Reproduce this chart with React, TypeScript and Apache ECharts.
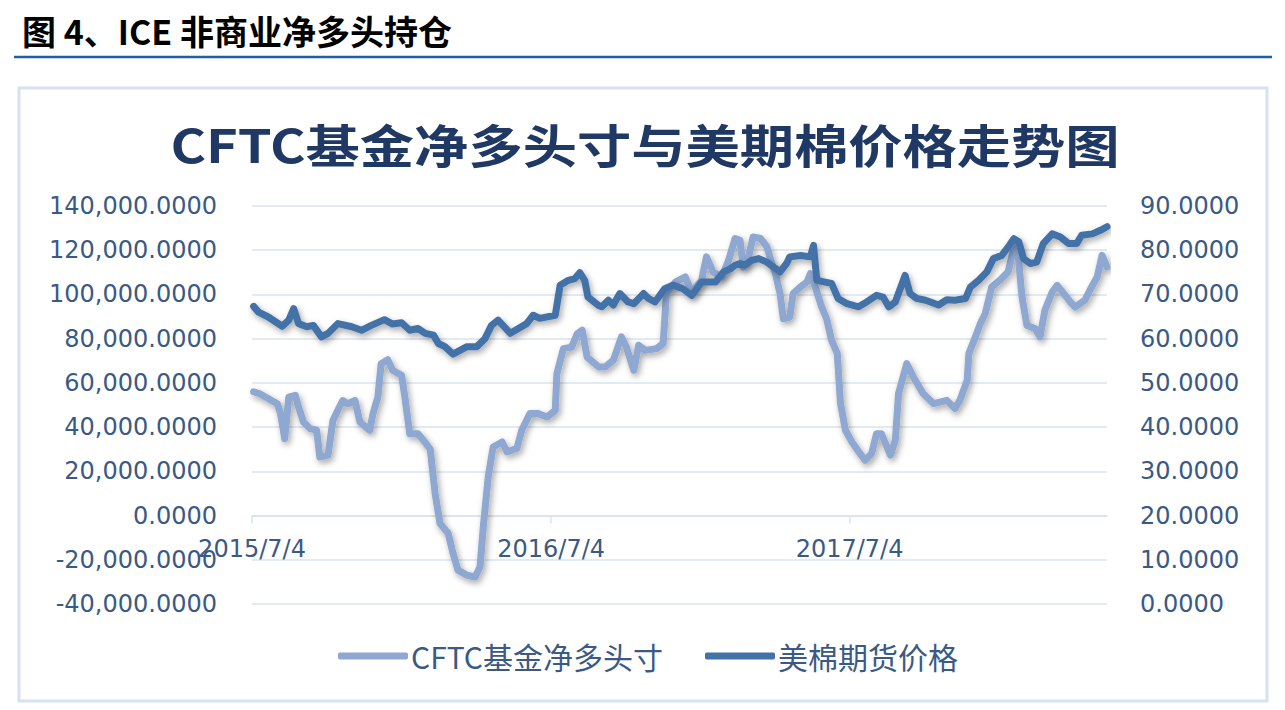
import React, { useEffect, useRef } from 'react';
import * as echarts from 'echarts';

const pageTitle = '图 4、ICE 非商业净多头持仓';
const chartTitle = 'CFTC基金净多头寸与美期棉价格走势图';
const seriesNames = ['CFTC基金净多头寸', '美棉期货价格'];
const tickLabels = ['2015/7/4', '2016/7/4', '2017/7/4'];

const cftcDates = [
  '2015-07-06','2015-07-14','2015-08-04','2015-08-08','2015-08-13','2015-08-18','2015-08-26','2015-08-30',
  '2015-09-05','2015-09-13','2015-09-21','2015-09-25','2015-10-05','2015-10-11','2015-10-17','2015-10-23',
  '2015-10-29','2015-11-07','2015-11-13','2015-11-25','2015-11-29','2015-12-05','2015-12-09','2015-12-17',
  '2015-12-23','2016-01-03','2016-01-07','2016-01-13','2016-01-23','2016-02-01','2016-02-07','2016-02-13',
  '2016-02-19','2016-02-29','2016-03-06','2016-03-12','2016-03-23','2016-04-02','2016-04-08','2016-04-12',
  '2016-04-18','2016-04-24','2016-05-05','2016-05-11','2016-05-23','2016-05-29','2016-06-08','2016-06-18',
  '2016-06-29','2016-07-09','2016-07-11','2016-07-19','2016-07-29','2016-08-05','2016-08-11','2016-08-17',
  '2016-08-31','2016-09-08','2016-09-18','2016-09-28','2016-10-04','2016-10-13','2016-10-19','2016-10-27',
  '2016-11-10','2016-11-18','2016-11-22','2016-12-03','2016-12-15','2016-12-23','2017-01-04','2017-01-10',
  '2017-01-18','2017-01-29','2017-02-06','2017-02-14','2017-02-20','2017-02-24','2017-03-02','2017-03-08',
  '2017-03-17','2017-03-25','2017-03-31','2017-04-04','2017-04-10','2017-04-14','2017-04-22','2017-04-26',
  '2017-05-05','2017-05-13','2017-05-17','2017-05-23','2017-05-31','2017-06-06','2017-06-12','2017-06-19',
  '2017-06-23','2017-06-29','2017-07-07','2017-07-17','2017-07-23','2017-07-31','2017-08-06','2017-08-12',
  '2017-08-23','2017-08-29','2017-09-02','2017-09-12','2017-09-20','2017-10-02','2017-10-15','2017-10-31',
  '2017-11-10','2017-11-16','2017-11-25','2017-11-27','2017-12-05','2017-12-11','2017-12-17','2017-12-25',
  '2018-01-04','2018-01-14','2018-01-21','2018-01-25','2018-01-31','2018-02-06','2018-02-16','2018-02-22',
  '2018-02-28','2018-03-09','2018-03-15','2018-03-23','2018-03-31','2018-04-06','2018-04-18','2018-04-25',
  '2018-05-03','2018-05-09','2018-05-15',
];
const cftcValues = [
  56000, 55000, 50600, 46000, 34800, 53600, 54400, 49000,
  42300, 39300, 38600, 26500, 27300, 43000, 47600, 52000,
  50600, 52000, 42300, 38600, 46000, 53600, 68700, 70500,
  65700, 63400, 53600, 37000, 37000, 33000, 30000, 10000,
  -3600, -8000, -17200, -24700, -27000, -27800, -23200, -5000,
  17500, 31000, 33300, 28800, 30300, 38600, 46100, 46100,
  44600, 47600, 64200, 75500, 76200, 82300, 83800, 71700,
  67200, 67200, 70200, 80800, 76200, 65700, 77000, 74700,
  75500, 77800, 100400, 105600, 107900, 101100, 106400, 117000,
  110200, 107900, 115400, 125300, 124500, 112400, 116200, 126000,
  125300, 121500, 114000, 110000, 100400, 89000, 89800, 100400,
  103400, 105600, 109400, 103400, 94300, 89000, 79300, 73300,
  50600, 38600, 33300, 28000, 25000, 28000, 37000, 37000,
  27300, 34000, 55200, 68700, 62700, 55200, 50600, 52100,
  48400, 52100, 61200, 73300, 80800, 86800, 91300, 103400,
  106400, 110200, 120800, 123000, 98900, 86000, 84600, 80800,
  92800, 101100, 104100, 100400, 96600, 94300, 97400, 102600,
  107900, 117700, 112400,
];

const priceDates = [
  '2015-07-06','2015-07-12','2015-07-24','2015-08-10','2015-08-18','2015-08-24','2015-08-30','2015-09-09',
  '2015-09-17','2015-09-27','2015-10-05','2015-10-17','2015-11-03','2015-11-15','2015-11-27','2015-12-13',
  '2015-12-23','2016-01-03','2016-01-13','2016-01-23','2016-02-01','2016-02-11','2016-02-17','2016-02-25',
  '2016-03-06','2016-03-23','2016-04-04','2016-04-14','2016-04-22','2016-04-30','2016-05-06','2016-05-15',
  '2016-05-25','2016-06-04','2016-06-12','2016-06-20','2016-07-09','2016-07-15','2016-07-25','2016-08-02',
  '2016-08-08','2016-08-14','2016-08-18','2016-08-31','2016-09-04','2016-09-12','2016-09-18','2016-09-26',
  '2016-10-06','2016-10-13','2016-10-25','2016-10-31','2016-11-08','2016-11-20','2016-11-30','2016-12-12',
  '2016-12-23','2017-01-04','2017-01-21','2017-01-31','2017-02-08','2017-02-14','2017-02-20','2017-02-26',
  '2017-03-06','2017-03-15','2017-03-25','2017-04-02','2017-04-10','2017-04-18','2017-04-22','2017-05-05',
  '2017-05-17','2017-05-21','2017-05-25','2017-06-04','2017-06-12','2017-06-20','2017-07-01','2017-07-15',
  '2017-07-25','2017-08-06','2017-08-14','2017-08-21','2017-08-29','2017-09-04','2017-09-10','2017-09-16',
  '2017-09-24','2017-10-05','2017-10-11','2017-10-21','2017-10-31','2017-11-10','2017-11-23','2017-11-29',
  '2017-12-09','2017-12-19','2017-12-27','2018-01-06','2018-01-14','2018-01-21','2018-01-27','2018-02-02',
  '2018-02-10','2018-02-18','2018-02-26','2018-03-09','2018-03-19','2018-03-29','2018-04-08','2018-04-14',
  '2018-04-27','2018-05-07','2018-05-15',
];
const priceValues = [
  67.3, 66.0, 64.9, 62.8, 64.2, 66.8, 63.4, 62.7,
  63.0, 60.4, 61.2, 63.4, 62.7, 61.9, 63.0, 64.3,
  63.3, 63.6, 61.9, 62.3, 61.2, 60.8, 58.9, 58.2,
  56.5, 58.2, 58.2, 60.0, 63.0, 64.2, 63.0, 61.2,
  62.3, 63.4, 65.3, 64.6, 65.3, 72.1, 73.2, 73.6,
  74.9, 73.2, 69.4, 67.5, 67.2, 68.7, 67.6, 70.2,
  68.3, 67.9, 70.2, 69.1, 68.3, 71.3, 72.1, 71.3,
  69.8, 72.8, 72.8, 75.1, 75.8, 76.6, 77.0, 76.6,
  77.7, 78.1, 77.3, 76.2, 75.1, 77.0, 78.5, 78.8,
  78.5, 81.1, 73.2, 72.8, 72.5, 69.1, 67.9, 67.2,
  68.3, 69.8, 69.4, 67.2, 68.3, 71.3, 74.3, 70.2,
  69.1, 68.7, 68.3, 67.6, 68.8, 68.7, 69.1, 71.7,
  73.2, 75.1, 78.1, 78.8, 80.7, 82.6, 81.9, 78.1,
  77.0, 77.3, 81.5, 83.7, 83.0, 81.5, 81.5, 83.4,
  83.7, 84.5, 85.3,
];

const toTs = (s: string) => {
  const [y, m, d] = s.split(/[-/]/).map(Number);
  return Date.UTC(y, m - 1, d);
};

export default function App() {
  const ref = useRef<HTMLDivElement>(null);

  useEffect(() => {
    const chart = echarts.init(ref.current!, null, { renderer: 'svg' });
    const tickTs = tickLabels.map(toTs);
    const lastTs = toTs(cftcDates[cftcDates.length - 1]);
    const labelColor = '#3A5A85';
    const gridColor = '#D9E3F1';
    const shadow = {
      shadowColor: 'rgba(0,0,0,0.35)',
      shadowBlur: 6,
      shadowOffsetX: 2,
      shadowOffsetY: 3,
    };

    chart.setOption({
      animation: false,
      backgroundColor: '#ffffff',
      graphic: [
        {
          type: 'rect',
          z: -1,
          shape: { x: 19, y: 88, width: 1248, height: 613 },
          style: { fill: 'none', stroke: '#D6E2F2', lineWidth: 3 },
        },
        {
          type: 'text',
          left: 22,
          top: 13,
          style: {
            text: pageTitle,
            fontSize: 34,
            fontWeight: 'bold',
            fontFamily: '"Noto Sans CJK SC"',
            fill: '#000000',
          },
        },
        {
          type: 'line',
          shape: { x1: 14, y1: 57, x2: 1272, y2: 57 },
          style: { stroke: '#1F5FA6', lineWidth: 2.5 },
        },
        {
          type: 'text',
          x: 645,
          y: 143,
          scaleX: 1.18,
          style: {
            text: chartTitle,
            fontSize: 46,
            fontWeight: 'bold',
            fontFamily: '"Noto Sans CJK SC"',
            fill: '#1F3864',
            align: 'center',
            verticalAlign: 'middle',
            textAlign: 'center',
            textVerticalAlign: 'middle',
          },
        },
      ],
      legend: {
        left: 333,
        top: 636,
        itemWidth: 70,
        itemHeight: 7,
        itemGap: 42,
        icon: 'roundRect',
        textStyle: {
          fontSize: 30,
          fontFamily: '"Noto Sans CJK SC"',
          color: labelColor,
          padding: [0, 0, 0, -2],
        },
        data: seriesNames,
      },
      grid: { left: 252, right: 178, top: 206, bottom: 106, containLabel: false },
      xAxis: {
        type: 'value',
        min: tickTs[0],
        max: lastTs,
        axisLine: { show: true, onZero: true, onZeroAxisIndex: 0, lineStyle: { color: gridColor, width: 1.5 } },
        axisTick: {
          show: true,
          length: 8,
          customValues: tickTs,
          lineStyle: { color: gridColor, width: 1.5 },
        },
        axisLabel: {
          customValues: tickTs,
          fontSize: 24,
          fontFamily: '"DejaVu Sans"',
          color: labelColor,
          margin: -67,
          formatter: (v: number) => {
            const i = tickTs.indexOf(v);
            return i >= 0 ? tickLabels[i] : '';
          },
        },
        splitLine: { show: false },
      },
      yAxis: [
        {
          type: 'value',
          min: -40000,
          max: 140000,
          interval: 20000,
          axisLine: { show: false },
          axisTick: { show: false },
          splitLine: { show: true, lineStyle: { color: gridColor, width: 1.5 } },
          axisLabel: {
            fontSize: 24,
            fontFamily: '"DejaVu Sans"',
            color: labelColor,
            margin: 35,
            formatter: (v: number) =>
              v.toLocaleString('en-US', { minimumFractionDigits: 4, maximumFractionDigits: 4 }),
          },
        },
        {
          type: 'value',
          min: 0,
          max: 90,
          interval: 10,
          axisLine: { show: false },
          axisTick: { show: false },
          splitLine: { show: false },
          axisLabel: {
            fontSize: 24,
            fontFamily: '"DejaVu Sans"',
            color: labelColor,
            margin: 33,
            formatter: (v: number) => v.toFixed(4),
          },
        },
      ],
      series: [
        {
          name: seriesNames[0],
          type: 'line',
          yAxisIndex: 0,
          showSymbol: false,
          symbol: 'none',
          data: cftcDates.map((d, i) => [toTs(d), cftcValues[i]]),
          itemStyle: { color: '#8FA8D2' },
          lineStyle: { color: '#8FA8D2', width: 7, cap: 'round', join: 'round', ...shadow },
          z: 2,
        },
        {
          name: seriesNames[1],
          type: 'line',
          yAxisIndex: 1,
          showSymbol: false,
          symbol: 'none',
          data: priceDates.map((d, i) => [toTs(d), priceValues[i]]),
          itemStyle: { color: '#4372A8' },
          lineStyle: { color: '#4372A8', width: 7, cap: 'round', join: 'round', ...shadow },
          z: 3,
        },
      ],
    });

    return () => chart.dispose();
  }, []);

  return (
    <div
      ref={ref}
      style={{ position: 'fixed', left: 0, top: 0, width: 1285, height: 710, background: '#fff' }}
    />
  );
}
